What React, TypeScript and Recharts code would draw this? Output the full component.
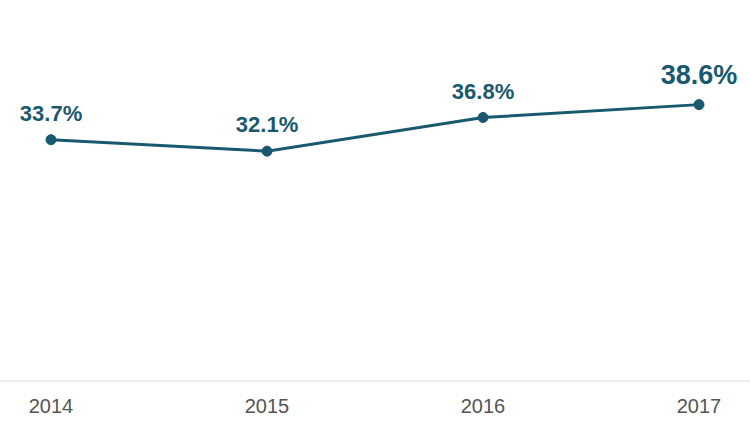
import React from 'react';
import { LineChart, Line, XAxis, YAxis } from 'recharts';

const years = ['2014', '2015', '2016', '2017'];
const shares = [33.7, 32.1, 36.8, 38.6];

const data = years.map((year, i) => ({ year, share: shares[i] }));

const lineColor = '#18596f';

const PointLabel = (props: any) => {
  const { x, y, index, value } = props;
  const last = index === shares.length - 1;
  return (
    <text
      x={x}
      y={y - (last ? 21 : 19)}
      textAnchor="middle"
      fill={lineColor}
      fontWeight="bold"
      fontSize={last ? 27 : 22}
      fontFamily="Liberation Sans, Arial, sans-serif"
    >
      {value.toFixed(1)}%
    </text>
  );
};

export default function App() {
  return (
    <div style={{ position: 'absolute', left: 0, top: 0, background: '#fff' }}>
      <LineChart
        width={750}
        height={431}
        data={data}
        margin={{ top: 23, right: 0, left: 0, bottom: 0 }}
      >
        <XAxis
          dataKey="year"
          scale="point"
          padding={{ left: 51, right: 51 }}
          height={50}
          tickLine={false}
          tickSize={0}
          tickMargin={18}
          axisLine={{ stroke: '#dddddd' }}
          tick={{ fill: '#555555', fontSize: 20, fontFamily: 'Liberation Sans, Arial, sans-serif' }}
        />
        <YAxis hide domain={[0, 50]} />
        <Line
          type="linear"
          dataKey="share"
          stroke={lineColor}
          strokeWidth={3}
          dot={{ r: 5, fill: lineColor, stroke: lineColor, strokeWidth: 1 }}
          label={<PointLabel />}
          isAnimationActive={false}
        />
      </LineChart>
    </div>
  );
}
